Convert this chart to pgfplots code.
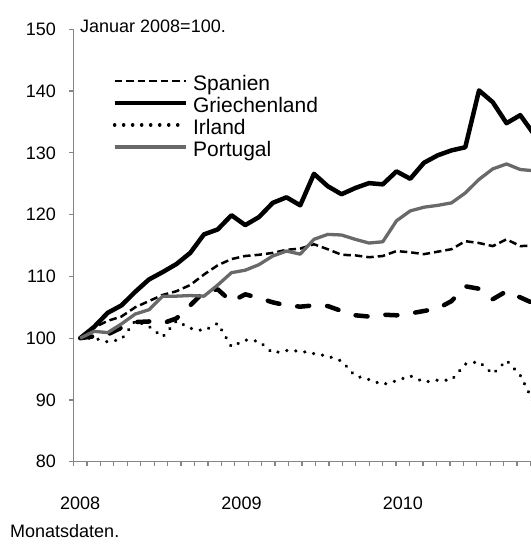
\documentclass[border=0pt]{standalone}
\usepackage{fontspec}
\setmainfont{Liberation Sans}
\usepackage{pgfplots}
\pgfplotsset{compat=1.18}
\definecolor{axisgray}{RGB}{134,134,134}
\definecolor{ptgray}{RGB}{105,105,105}

% Index 0 = Januar 2008, monthly values (Januar 2008 = 100)
\pgfplotstableread{
i  es    gr    ie    pt    xx
0  100.0 100.0 100.0 100.0 100.0
1  101.7 101.8 100.0 101.1 100.3
2  102.8 104.1 99.4  100.9 100.6
3  103.5 105.3 99.8  102.3 101.7
4  105.0 107.5 102.8 103.9 102.6
5  106.0 109.5 101.9 104.6 102.7
6  107.0 110.7 100.2 106.8 102.4
7  107.6 112.0 102.8 106.8 103.2
8  108.6 113.8 101.6 106.9 105.3
9  110.3 116.8 101.2 106.8 107.5
10 111.8 117.6 102.4 108.6 107.9
11 112.8 119.9 98.6  110.6 105.9
12 113.3 118.3 99.7  111.0 107.1
13 113.5 119.6 99.5  111.9 106.5
14 113.8 121.9 97.6  113.3 105.8
15 114.3 122.8 98.0  114.1 105.3
16 114.5 121.5 97.9  113.6 105.1
17 115.2 126.6 97.5  116.0 105.3
18 114.4 124.6 97.1  116.8 105.2
19 113.5 123.3 96.3  116.7 104.4
20 113.4 124.3 93.9  116.0 103.7
21 113.1 125.1 93.3  115.4 103.5
22 113.3 124.9 92.5  115.6 103.8
23 114.1 127.0 93.1  119.0 103.7
24 113.9 125.8 93.9  120.6 104.0
25 113.6 128.4 92.9  121.2 104.4
26 114.0 129.6 93.2  121.5 104.8
27 114.4 130.4 93.2  121.9 106.0
28 115.7 130.9 95.8  123.5 108.4
29 115.4 140.1 96.2  125.7 108.0
30 114.9 138.2 94.2  127.4 106.3
31 116.0 134.8 96.4  128.2 107.6
32 114.9 136.1 94.0  127.3 106.6
33 115.0 133.0 89.5  127.1 105.6
}\data

\begin{document}
\begin{tikzpicture}
\begin{axis}[
  name=ax,
  at={(0,0)}, anchor=south west,
  scale only axis,
  width=457.5bp, height=432.4bp,
  xmin=-0.487, xmax=32.78,
  ymin=80, ymax=150,
  axis x line=bottom, axis y line=left,
  axis line style={-, axisgray, line width=1.3bp},
  tick style={axisgray, line width=1.3bp},
  tick align=outside,
  major tick length=4.5bp,
  ytick={80,90,...,150},
  xtick={-0.487,0.4905,...,32.76},
  xticklabels={},
  extra x ticks={0,11.73,23.46},
  extra x tick labels={2008,2009,2010},
  extra x tick style={major tick length=0pt,
    xticklabel style={inner sep=0pt, yshift=-35bp}},
  ticklabel style={font=\fontsize{18bp}{21bp}\selectfont, text=black},
  yticklabel style={inner sep=0pt, xshift=-13bp},
  /pgf/number format/assume math mode=true,
  legend style={at={(0.0846,0.8927)}, anchor=north west, draw=none, fill=none,
    inner sep=0pt, row sep=2bp, column sep=5.2bp,
    nodes={inner sep=0pt, text height=15bp, text depth=5bp},
    font=\fontsize{21bp}{22bp}\selectfont},
  legend cell align=left,
  legend image code/.code={\draw[#1] (0bp,5bp) -- (71bp,5bp);},
  line join=round,
]
\addplot[forget plot, black, line width=4.5bp, line cap=round,
  dash pattern=on 12bp off 18bp] table[x=i, y=xx] {\data};
\addplot[black, line width=2.5bp, dash pattern=on 7.5bp off 4bp] table[x=i, y=es] {\data};
\addplot[black, line width=4.5bp] table[x=i, y=gr] {\data};
\addplot[black, line width=3.6bp, line cap=round, dash pattern=on 0.01bp off 9bp] table[x=i, y=ie] {\data};
\addplot[ptgray, line width=3.3bp] table[x=i, y=pt] {\data};
\legend{Spanien, Griechenland, Irland, Portugal}
\end{axis}
\node[anchor=base west, inner sep=0pt, font=\fontsize{18bp}{21bp}\selectfont]
  at ([xshift=6.5bp, yshift=-3.2bp]ax.north west) {Januar 2008=100.};
\node[anchor=base west, inner sep=0pt, font=\fontsize{18bp}{21bp}\selectfont]
  at ([xshift=-63.5bp, yshift=-76bp]ax.south west) {Monatsdaten.};
\pgfresetboundingbox
\path[use as bounding box] (-73.5bp,-84.3bp) rectangle (457.5bp,461.7bp);
\end{tikzpicture}
\end{document}
